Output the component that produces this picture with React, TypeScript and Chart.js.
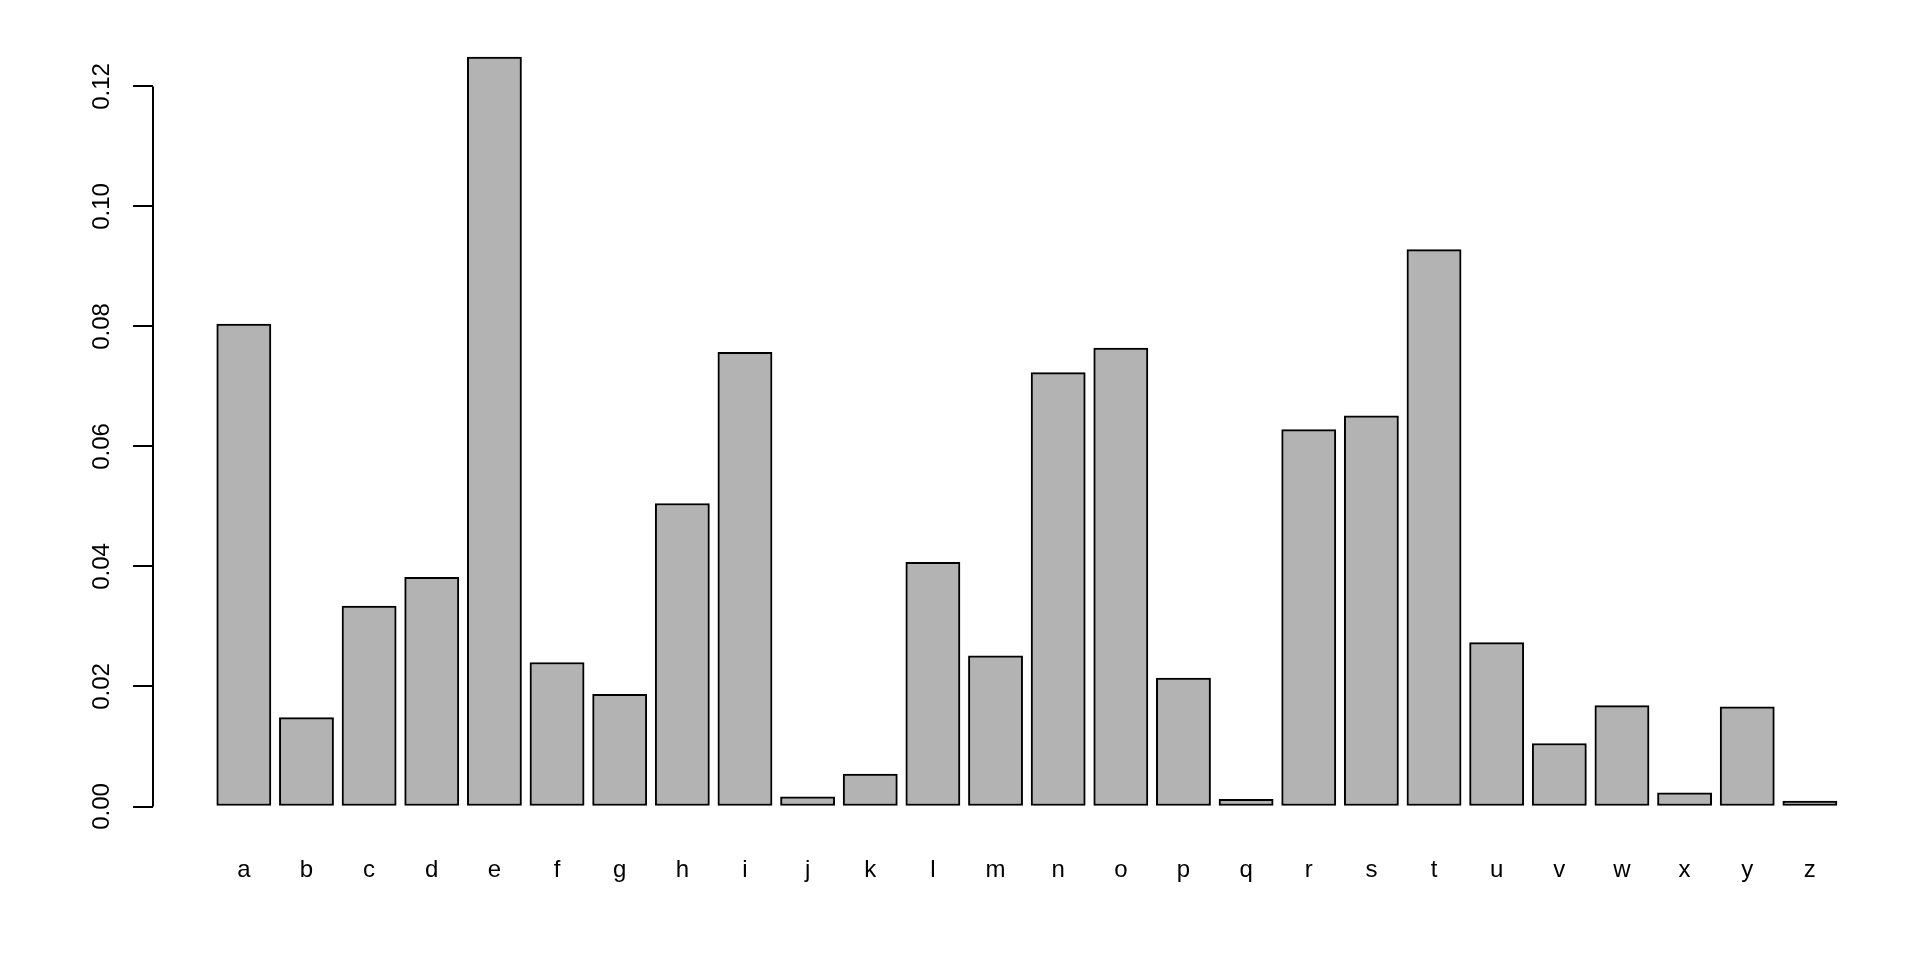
import React, { useEffect, useRef } from "react";
import { Chart, registerables } from "chart.js";

Chart.register(...registerables);

const letters = ["a","b","c","d","e","f","g","h","i","j","k","l","m","n","o","p","q","r","s","t","u","v","w","x","y","z"];
const frequencies = [0.0804, 0.0148, 0.0334, 0.0382, 0.1249, 0.0240, 0.0187, 0.0505, 0.0757, 0.0016, 0.0054, 0.0407, 0.0251, 0.0723, 0.0764, 0.0214, 0.0012, 0.0628, 0.0651, 0.0928, 0.0273, 0.0105, 0.0168, 0.0023, 0.0166, 0.0009];
const yTicks = [0, 0.02, 0.04, 0.06, 0.08, 0.1, 0.12];
const yTickLabels = ["0.00", "0.02", "0.04", "0.06", "0.08", "0.10", "0.12"];

const FONT = "'Liberation Sans', Arial, Helvetica, sans-serif";

export default function App() {
  const ref = useRef<HTMLCanvasElement | null>(null);

  useEffect(() => {
    if (!ref.current) return;
    const n = letters.length;
    // R barplot geometry: width 1, space 0.2, axis range extended 4%
    const uL = 0.2, uR = n * 1.2;
    const ext = 0.04 * (uR - uL);
    const xMin = (uL - ext - 0.7) / 1.2;
    const xMax = (uR + ext - 0.7) / 1.2;
    const maxV = Math.max(...frequencies);

    const axisPlugin = {
      id: "rAxis",
      afterDraw(chart: any) {
        const { ctx } = chart;
        const y = chart.scales.y;
        const x0 = chart.chartArea.left;
        ctx.save();
        ctx.strokeStyle = "#000";
        ctx.lineWidth = 2;
        ctx.beginPath();
        ctx.moveTo(x0, y.getPixelForValue(yTicks[0]));
        ctx.lineTo(x0, y.getPixelForValue(yTicks[yTicks.length - 1]));
        ctx.stroke();
        ctx.fillStyle = "#000";
        ctx.font = `24px ${FONT}`;
        ctx.textAlign = "center";
        ctx.textBaseline = "alphabetic";
        yTicks.forEach((v, i) => {
          const py = y.getPixelForValue(v);
          ctx.save();
          ctx.translate(109, py);
          ctx.rotate(-Math.PI / 2);
          ctx.fillText(yTickLabels[i], 0, 0);
          ctx.restore();
        });
        ctx.restore();
      },
    };

    const chart = new Chart(ref.current, {
      type: "bar",
      data: {
        datasets: [
          {
            data: frequencies.map((v, i) => ({ x: i, y: v })),
            backgroundColor: "#B3B3B3",
            borderColor: "#000000",
            borderWidth: 2,
            borderSkipped: false,
            barThickness: 54.2,
          },
        ],
      },
      options: {
        animation: false,
        responsive: false,
        devicePixelRatio: 1,
        layout: { padding: { left: 0, right: 19.3, top: 27, bottom: 0 } },
        plugins: { legend: { display: false }, tooltip: { enabled: false } },
        scales: {
          x: {
            type: "linear",
            offset: false,
            min: xMin,
            max: xMax,
            grid: { display: false },
            border: { display: false },
            ticks: {
              autoSkip: false,
              maxRotation: 0,
              minRotation: 0,
              padding: 11,
              color: "#000",
              font: { size: 24, family: FONT },
              callback: (v: any) => letters[Math.round(Number(v))] ?? "",
            },
            afterBuildTicks: (s: any) => {
              s.ticks = letters.map((_, i) => ({ value: i }));
            },
            afterFit: (s: any) => {
              s.height = 960 - 836.5;
            },
          },
          y: {
            type: "linear",
            min: -0.04 * maxV,
            max: 1.04 * maxV,
            grid: {
              display: true,
              drawOnChartArea: false,
              drawTicks: true,
              tickLength: 20,
              lineWidth: 2,
              color: "#000",
            },
            border: { display: false },
            ticks: { display: false },
            afterBuildTicks: (s: any) => {
              s.ticks = yTicks.map((v) => ({ value: v }));
            },
            afterFit: (s: any) => {
              s.width = 153;
            },
          },
        },
      },
      plugins: [axisPlugin],
    });
    return () => chart.destroy();
  }, []);

  return (
    <div style={{ position: "absolute", left: 0, top: 0, width: 1920, height: 960, background: "#fff" }}>
      <canvas ref={ref} width={1920} height={960} style={{ display: "block", width: 1920, height: 960 }} />
    </div>
  );
}
